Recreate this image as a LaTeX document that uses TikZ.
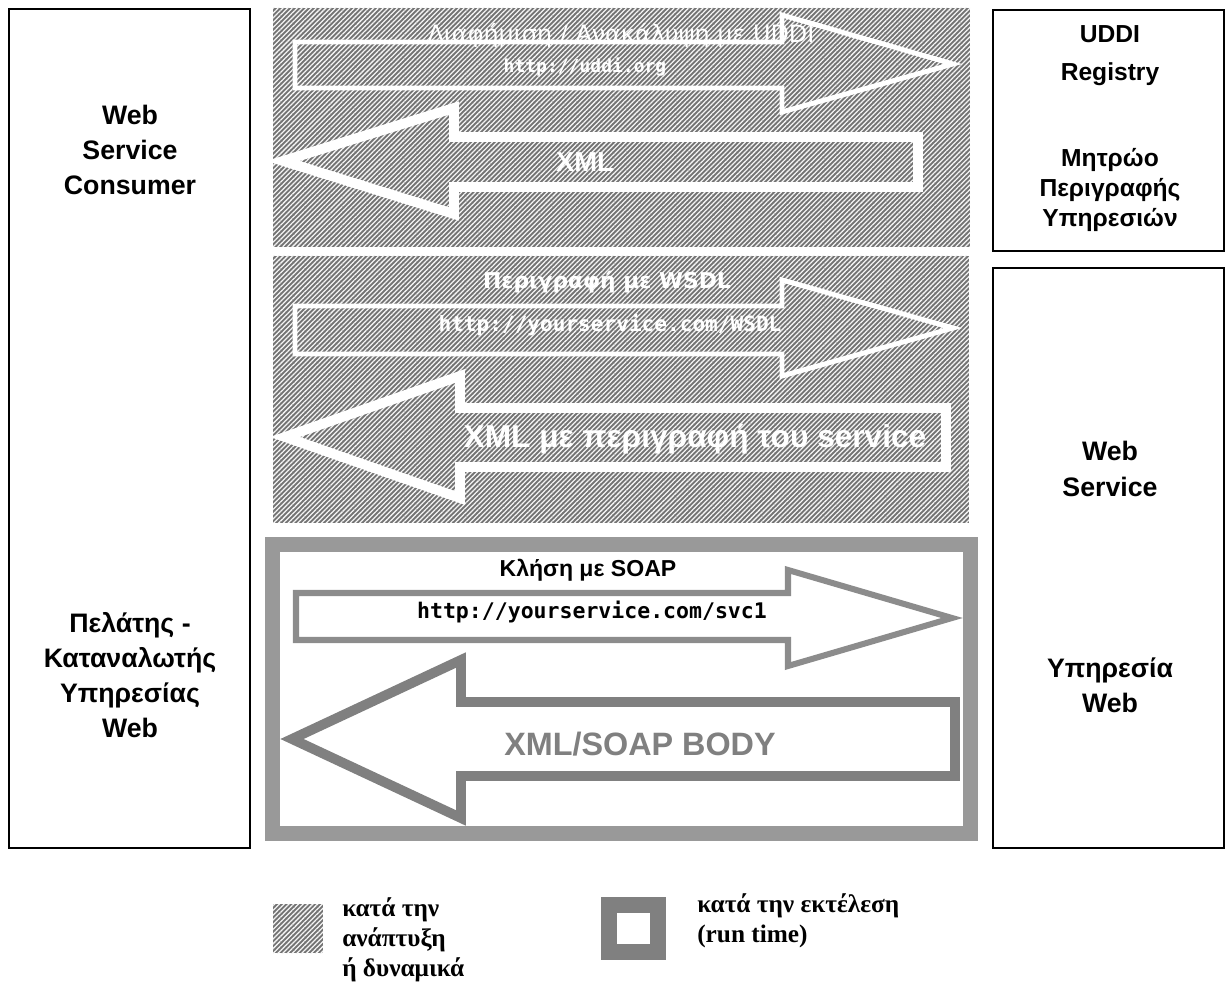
\documentclass[tikz,border=0pt]{standalone}
\usepackage{fontspec}
\setmainfont{Liberation Sans}
\newfontfamily\vfont{DejaVu Sans}
\newfontfamily\mfont{DejaVu Sans Mono}
\newfontfamily\tfont{Liberation Serif}
\usetikzlibrary{fit,patterns.meta}

\definecolor{hatchgray}{gray}{0.45}
\definecolor{rtgray}{gray}{0.6}
\definecolor{callgray}{gray}{0.55}
\definecolor{replygray}{gray}{0.5}

\tikzset{
	pane/.style={draw=black, line width=1pt, inner sep=0pt},
	devarea/.style={inner sep=0pt, fill=hatchgray,
		postaction={pattern={Lines[angle=45,distance=2.4pt,line width=0.9pt]}, pattern color=white!92!gray}},
	devarrow/.style={draw=white, line width=3.5pt, line join=miter},
	devarrowthick/.style={draw=white, line width=7pt, line join=miter},
	callarrow/.style={draw=callgray, fill=white, line width=4.3pt, line join=miter},
	replyarrow/.style={draw=replygray, fill=white, line width=7pt, line join=miter},
	boxlabel/.style={align=center, font=\fontsize{19}{25}\selectfont\bfseries},
	reglabel/.style={align=center, font=\fontsize{17.5}{21.5}\selectfont\bfseries},
	legtext/.style={align=left, inner sep=0pt, font=\tfont\fontsize{18}{21.6}\selectfont\bfseries}
}

\begin{document}
\begin{tikzpicture}[x=0.025cm, y=-0.025cm]
	\useasboundingbox (0,0) rectangle (1231,983);

	% actors
	\node[pane, fit={(9,9) (250,848)}] (consumer) {};
	\node[pane, fit={(993,10) (1224,251)}] (registry) {};
	\node[pane, fit={(993,268) (1224,848)}] (service) {};

	\node[boxlabel] (consumerEN) at (130,150) {Web\\Service\\Consumer};
	\node[boxlabel] (consumerGR) at (130,675) {Πελάτης -\\Καταναλωτής\\Υπηρεσίας\\Web};
	\node[boxlabel, font=\fontsize{17.5}{27}\selectfont\bfseries] (registryEN) at (1110,56) {UDDI\\Registry};
	\node[reglabel] (registryGR) at (1110,190) {Μητρώο\\Περιγραφής\\Υπηρεσιών};
	\node[boxlabel] (serviceEN) at (1110,469) {Web\\Service};
	\node[boxlabel] (serviceGR) at (1110,685) {Υπηρεσία\\Web};

	% design time areas
	\node[devarea, fit={(273,8) (970,247)}] (discover) {};
	\node[devarea, fit={(273,256) (969,523)}] (describe) {};

	\draw[devarrow] (295,42) -- (782,42) -- (782,15) -- (953,64) -- (782,112) -- (782,88) -- (295,88) -- cycle;
	\draw[devarrowthick] (918,137) -- (454,137) -- (454,108) -- (283,161) -- (454,214) -- (454,187) -- (918,187) -- cycle;
	\draw[devarrow] (295,306) -- (782,306) -- (782,280) -- (953,328) -- (782,376) -- (782,354) -- (295,354) -- cycle;
	\draw[devarrowthick] (946,408) -- (460,408) -- (460,376) -- (285,437) -- (460,498) -- (460,467) -- (946,467) -- cycle;

	\node[text=white, font=\vfont\fontsize{17}{20}\selectfont] (uddititle) at (621,35) {Διαφήμιση / Ανακάλυψη με UDDI};
	\node[text=white, font=\mfont\fontsize{12.8}{15}\selectfont\bfseries] (uddiurl) at (585,67) {http://uddi.org};
	\node[text=white, font=\fontsize{19.5}{23}\selectfont\bfseries] (xmlA) at (585,162) {XML};
	\node[text=white, font=\vfont\fontsize{15.5}{18}\selectfont\bfseries] (wsdltitle) at (607,282) {Περιγραφή με WSDL};
	\node[text=white, font=\mfont\fontsize{15}{18}\selectfont\bfseries] (wsdlurl) at (610,325) {http://yourservice.com/WSDL};
	\node[text=white, font=\fontsize{22.5}{26}\selectfont\bfseries] (xmlB) at (695,439) {XML με περιγραφή του service};

	% run time area
	\node[draw=rtgray, line width=10.7pt, inner sep=0pt, fit={(272.5,544.5) (970.5,833.5)}] (invoke) {};

	\draw[callarrow] (296,593) -- (788,593) -- (788,570) -- (952,618) -- (788,666) -- (788,640) -- (296,640) -- cycle;
	\draw[replyarrow] (955,702) -- (461,702) -- (461,660) -- (292,739) -- (461,818) -- (461,776) -- (955,776) -- cycle;

	\node[font=\fontsize{16.4}{20}\selectfont\bfseries] (soaptitle) at (588,570) {Κλήση με SOAP};
	\node[font=\mfont\fontsize{15.3}{18}\selectfont\bfseries] (soapurl) at (592,612) {http://yourservice.com/svc1};
	\node[text=replygray, font=\fontsize{23}{27}\selectfont\bfseries] (soapbody) at (640,744) {XML/SOAP BODY};

	% legend
	\node[devarea, fit={(273,904) (323,953)}] (legdev) {};
	\node[legtext, anchor=north west] (legdevtxt) at (342,897) {κατά την\\ανάπτυξη\\ή δυναμικά};
	\node[draw=replygray, line width=11.4pt, inner sep=0pt, fit={(609,905) (658,952)}] (legrt) {};
	\node[legtext, anchor=north west] (legrttxt) at (697,893) {κατά την εκτέλεση\\(run time)};
\end{tikzpicture}
\end{document}
